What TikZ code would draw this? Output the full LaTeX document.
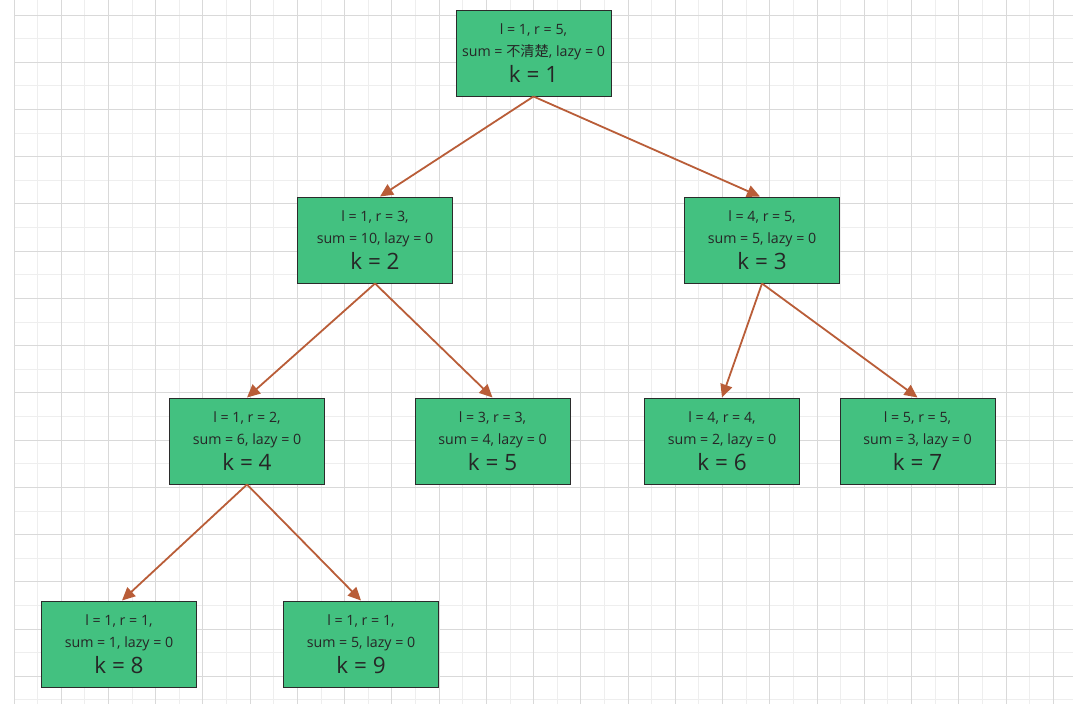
\documentclass[tikz,border=0pt]{standalone}
\usepackage{fontspec}
\setmainfont{Open Sans}
\newfontfamily\cjk{Noto Sans CJK SC}
\usetikzlibrary{arrows.meta}
\definecolor{C0}{HTML}{43C180}
\definecolor{C1}{HTML}{B95D38}
\definecolor{C7}{HTML}{D9D9D9}
\definecolor{C8}{HTML}{EEEEEE}
\definecolor{C9}{HTML}{2B2B2B}
\newcommand{\kval}[1]{{\fontsize{22.5}{22.5}\selectfont k = #1}}

\begin{document}
\begin{tikzpicture}[x=1pt,y=-1pt,
  seg/.style={draw=C9, line width=1pt, fill=C0, minimum width=155pt, minimum height=86pt,
    inner sep=0pt, align=center, text=black!85, font=\fontsize{14.2}{22.5}\selectfont},
  edge/.style={-{Triangle[length=13pt,width=12pt]}, C1, line width=1.8pt}]
\useasboundingbox (0,0) rectangle (1073,704);
\fill[white] (0,0) rectangle (1073,704);
\foreach \i in {0,...,44} \draw[C8, line width=1pt] (14+23.62*\i,0) -- ++(0,704);
\foreach \i in {0,...,29} \draw[C8, line width=1pt] (14,15+23.62*\i) -- (1073,15+23.62*\i);
\foreach \i in {0,...,22} \draw[C7, line width=1pt] (14+47.24*\i,0) -- ++(0,704);
\foreach \i in {0,...,14} \draw[C7, line width=1pt] (14,15+47.24*\i) -- (1073,15+47.24*\i);

\node[seg] (k1) at (533.5,53) {l = 1, r = 5,\\sum = {\cjk 不清楚}, lazy = 0\\[3pt]\kval{1}};
\node[seg] (k2) at (375,240) {l = 1, r = 3,\\sum = 10, lazy = 0\\[3pt]\kval{2}};
\node[seg] (k3) at (762,240) {l = 4, r = 5,\\sum = 5, lazy = 0\\[3pt]\kval{3}};
\node[seg] (k4) at (247,441) {l = 1, r = 2,\\sum = 6, lazy = 0\\[3pt]\kval{4}};
\node[seg] (k5) at (492.5,441) {l = 3, r = 3,\\sum = 4, lazy = 0\\[3pt]\kval{5}};
\node[seg] (k6) at (722,441) {l = 4, r = 4,\\sum = 2, lazy = 0\\[3pt]\kval{6}};
\node[seg] (k7) at (917.5,441) {l = 5, r = 5,\\sum = 3, lazy = 0\\[3pt]\kval{7}};
\node[seg] (k8) at (119,644) {l = 1, r = 1,\\sum = 1, lazy = 0\\[3pt]\kval{8}};
\node[seg] (k9) at (361,644) {l = 1, r = 1,\\sum = 5, lazy = 0\\[3pt]\kval{9}};

\draw[edge] (k1.south) -- ([xshift=5pt]k2.north);
\draw[edge] (k1.south) -- ([xshift=-2pt]k3.north);
\draw[edge] (k2.south) -- (k4.north);
\draw[edge] (k2.south) -- (k5.north);
\draw[edge] (k3.south) -- (k6.north);
\draw[edge] (k3.south) -- (k7.north);
\draw[edge] (k4.south) -- ([xshift=3pt]k8.north);
\draw[edge] (k4.south) -- (k9.north);
\end{tikzpicture}
\end{document}
